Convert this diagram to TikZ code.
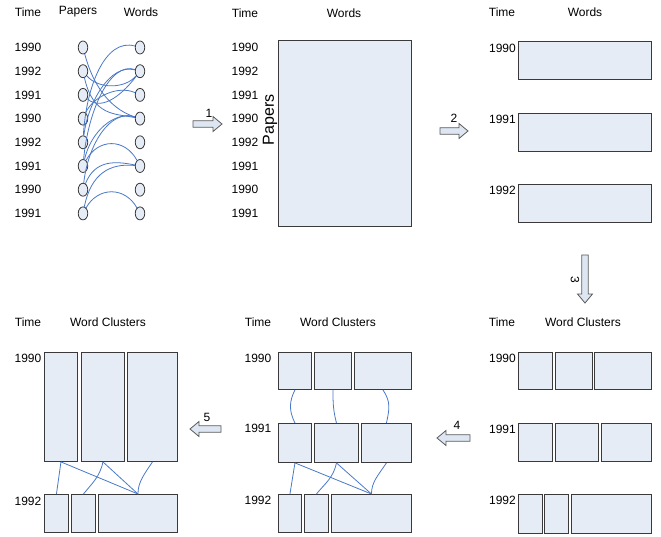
\documentclass[tikz,border=0pt]{standalone}
\usepackage{fontspec}
\setmainfont{Liberation Sans}
\usetikzlibrary{shapes.geometric}
\definecolor{boxfill}{HTML}{E6ECF6}
\definecolor{boxline}{HTML}{3A3A3A}
\definecolor{linkblue}{HTML}{4A78C8}
\definecolor{arrfill}{HTML}{DDE6F2}
\definecolor{arrline}{HTML}{5A5A5A}
\tikzset{
  txt/.style={font=\fontsize{12}{14}\selectfont, inner sep=0pt},
  cell/.style={draw=boxline, fill=boxfill, line width=0.9pt, inner sep=0pt, anchor=north west},
  dot/.style={ellipse, draw=boxline, fill=boxfill, line width=0.8pt, inner sep=0pt, minimum width=9.5pt, minimum height=13pt},
  link/.style={draw=linkblue, line width=0.8pt},
  arrowsty/.style={draw=arrline, fill=arrfill, line width=0.8pt, line join=miter},
  pics/blockarrow/.style={code={
    \draw[arrowsty] ({-#1/2},-3.2) -- ({#1/2-9},-3.2) -- ({#1/2-9},-7.5) -- ({#1/2},0)
      -- ({#1/2-9},7.5) -- ({#1/2-9},3.2) -- ({-#1/2},3.2) -- cycle;}}
}
\begin{document}
\begin{tikzpicture}[x=1pt,y=-1pt]
\useasboundingbox (0,0) rectangle (661,537);

% ---------- panel 1 ----------
\node[txt] (h1t) at (28,12) {Time};
\node[txt] (h1p) at (78,12) {Papers};
\node[txt] (h1w) at (141,12) {Words};
\foreach \yr [count=\i] in {1990,1992,1991,1990,1992,1991,1990,1991} {
  \pgfmathsetmacro\yy{47.5+23.7*(\i-1)}
  \node[txt] (ta\i) at (28,\yy) {\yr};
  \node[dot] (p\i) at (83,\yy) {};
  \node[dot] (w\i) at (140,\yy) {};
  \node[txt] (tb\i) at (245,\yy) {\yr};
}
\draw[link] (p5) .. controls +(3,-55) and +(-35,-10) .. (w1);
\draw[link] (p5) .. controls +(5,-40) and +(-30,-8) .. (w2);
\draw[link] (p6) .. controls +(5,-55) and +(-30,-10) .. (w2);
\draw[link] (p4) .. controls +(10,-22) and +(-22,-10) .. (w3);
\draw[link] (p6) .. controls +(8,-35) and +(-25,-8) .. (w4);
\draw[link] (p7) .. controls +(5,-45) and +(-30,-10) .. (w4);
\draw[link] (p6) .. controls +(15,-28) and +(-15,-28) .. (w6);
\draw[link] (p7) .. controls +(12,-30) and +(-25,-5) .. (w6);
\draw[link] (p8) .. controls +(8,-40) and +(-30,-3) .. (w6);
\draw[link] (p8) .. controls +(15,-27) and +(-15,-27) .. (w8);
\draw[link] (p1) .. controls +(12,45) and +(-25,-8) .. (w4);
\draw[link] (p2) .. controls +(15,18) and +(-15,18) .. (w2);
\draw[link] (p3) .. controls +(20,18) and +(-15,20) .. (w2);
\draw[link] (p2) .. controls +(10,45) and +(-25,-5) .. (w4);

% ---------- panel 2 ----------
\node[txt] (h2t) at (245,13) {Time};
\node[txt] (h2w) at (344,13) {Words};
\node[cell, minimum width=133pt, minimum height=186pt] (big) at (278,40) {};
\node[txt, font=\fontsize{16}{18}\selectfont, rotate=90] (pap) at (270,120) {Papers};

% ---------- panel 3 ----------
\node[txt] (h3t) at (502,12) {Time};
\node[txt] (h3w) at (585,12) {Words};
\node[cell, minimum width=133pt, minimum height=38pt] (r90) at (518,41) {};
\node[cell, minimum width=133pt, minimum height=38pt] (r91) at (518,113) {};
\node[cell, minimum width=133pt, minimum height=38pt] (r92) at (518,184) {};
\node[txt, anchor=east] (y3a) at (516,48) {1990};
\node[txt, anchor=east] (y3b) at (516,119) {1991};
\node[txt, anchor=east] (y3c) at (516,190) {1992};

% ---------- panel 6 (bottom right) ----------
\node[txt] (h6t) at (502,322) {Time};
\node[txt] (h6w) at (583,322) {Word Clusters};
\node[txt, anchor=east] (y6a) at (516,358) {1990};
\node[txt, anchor=east] (y6b) at (516,429) {1991};
\node[txt, anchor=east] (y6c) at (516,500) {1992};
\node[cell, minimum width=34pt, minimum height=37pt] (f1) at (518,352) {};
\node[cell, minimum width=37pt, minimum height=37pt] (f2) at (555,352) {};
\node[cell, minimum width=57pt, minimum height=37pt] (f3) at (594,352) {};
\node[cell, minimum width=34pt, minimum height=38pt] (g1) at (518,423) {};
\node[cell, minimum width=43pt, minimum height=38pt] (g2) at (555,423) {};
\node[cell, minimum width=50pt, minimum height=38pt] (g3) at (601,423) {};
\node[cell, minimum width=24pt, minimum height=39pt] (k1) at (518,494) {};
\node[cell, minimum width=24pt, minimum height=39pt] (k2) at (544,494) {};
\node[cell, minimum width=80pt, minimum height=39pt] (k3) at (571,494) {};

% ---------- panel 5 (bottom middle) ----------
\node[txt] (h5t) at (258,322) {Time};
\node[txt] (h5w) at (338,322) {Word Clusters};
\node[txt] (y5a) at (258,358) {1990};
\node[txt] (y5b) at (258,428) {1991};
\node[txt] (y5c) at (258,500) {1992};
\node[cell, minimum width=33pt, minimum height=37pt] (m1) at (278,352) {};
\node[cell, minimum width=37pt, minimum height=37pt] (m2) at (314,352) {};
\node[cell, minimum width=57pt, minimum height=37pt] (m3) at (354,352) {};
\node[cell, minimum width=33pt, minimum height=39pt] (n1) at (278,423) {};
\node[cell, minimum width=44pt, minimum height=39pt] (n2) at (314,423) {};
\node[cell, minimum width=50pt, minimum height=39pt] (n3) at (361,423) {};
\node[cell, minimum width=23pt, minimum height=38pt] (q1) at (278,494) {};
\node[cell, minimum width=24pt, minimum height=38pt] (q2) at (304,494) {};
\node[cell, minimum width=80pt, minimum height=38pt] (q3) at (331,494) {};
\draw[link] (m1.south) .. controls +(-6,12) and +(-6,-12) .. (n1.north);
\draw[link] (m2.south) .. controls +(0,15) and +(-3,-12) .. (n2.north);
\draw[link] (m3.south) .. controls +(8,12) and +(3,-14) .. (n3.north);
\draw[link] (n1.south) -- (q1.north);
\draw[link] (n1.south) -- (q3.north);
\draw[link] (n2.south) .. controls +(-3,15) and +(8,-10) .. (q2.north);
\draw[link] (n2.south) -- (q3.north);
\draw[link] (n3.south) .. controls +(-8,12) and +(0,-12) .. (q3.north);

% ---------- panel 4 (bottom left) ----------
\node[txt] (h4t) at (28,322) {Time};
\node[txt] (h4w) at (108,322) {Word Clusters};
\node[txt] (y4a) at (28,358) {1990};
\node[txt] (y4c) at (28,501) {1992};
\node[cell, minimum width=33pt, minimum height=109pt] (s1) at (44,352) {};
\node[cell, minimum width=43pt, minimum height=109pt] (s2) at (81,352) {};
\node[cell, minimum width=50pt, minimum height=109pt] (s3) at (127,352) {};
\node[cell, minimum width=24pt, minimum height=38pt] (t1) at (44,494) {};
\node[cell, minimum width=24pt, minimum height=38pt] (t2) at (71,494) {};
\node[cell, minimum width=79pt, minimum height=38pt] (t3) at (98,494) {};
\draw[link] (s1.south) -- (t1.north);
\draw[link] (s1.south) -- (t3.north);
\draw[link] (s2.south) .. controls +(-3,15) and +(8,-10) .. (t2.north);
\draw[link] (s2.south) -- (t3.north);
\draw[link] (s3.south) .. controls +(-8,12) and +(0,-12) .. (t3.north);

% ---------- step arrows ----------
\pic at (207.5,124) {blockarrow=29};
\node[txt] (l1) at (209,113) {1};
\pic at (454,131) {blockarrow=28};
\node[txt] (l2) at (454,118) {2};
\pic[rotate=-90] at (585,279) {blockarrow=48};
\node[txt, rotate=-90] (l3) at (575,280) {3};
\pic[rotate=180] at (453.5,438) {blockarrow=33};
\node[txt] (l4) at (457,425) {4};
\pic[rotate=180] at (205.5,429) {blockarrow=31};
\node[txt] (l5) at (207,417) {5};
\end{tikzpicture}
\end{document}
